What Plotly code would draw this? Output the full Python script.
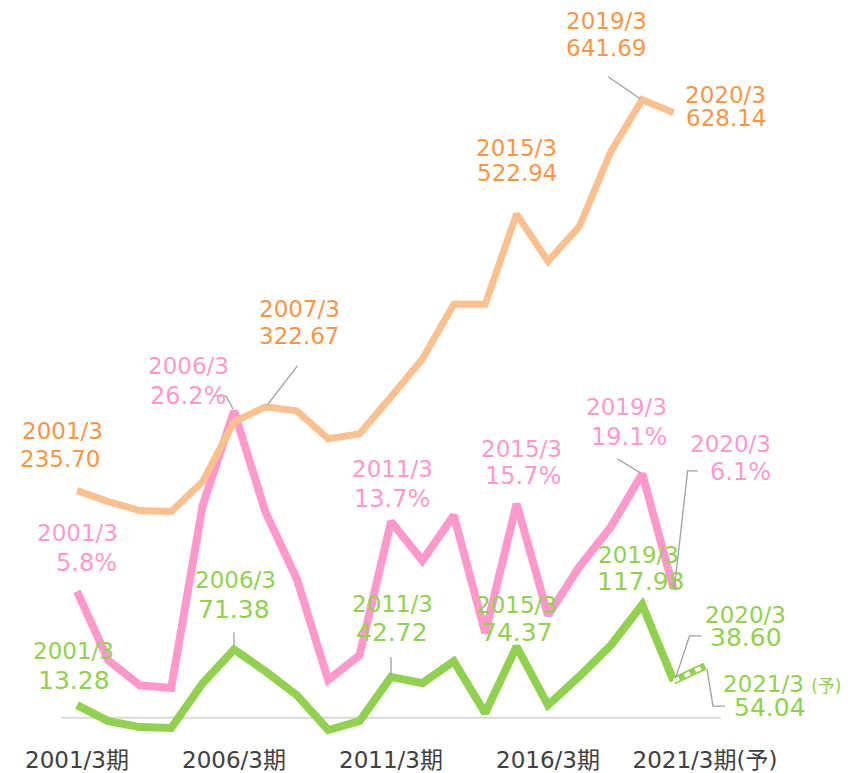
import plotly.graph_objects as go

# ---------------- data ----------------
periods = ["2001/3", "2002/3", "2003/3", "2004/3", "2005/3", "2006/3", "2007/3", "2008/3",
           "2009/3", "2010/3", "2011/3", "2012/3", "2013/3", "2014/3", "2015/3", "2016/3",
           "2017/3", "2018/3", "2019/3", "2020/3", "2021/3"]
tick_labels = ["2001/3期", "2006/3期", "2011/3期", "2016/3期", "2021/3期(予)"]
tick_index = [0, 5, 10, 15, 20]

sales = [235.70, 224.3, 215.0, 214.0, 245.0, 307.2, 322.67, 318.6, 289.6, 294.7,
         333.1, 372.4, 429.4, 429.4, 522.94, 473.9, 510.2, 587.8, 641.69, 628.14]
margin_pct = [5.8, -2.0, -4.8, -5.1, 15.5, 26.2, 14.8, 7.2, -4.2, -1.4,
              13.7, 9.3, 14.4, 1.1, 15.7, 3.1, 8.6, 13.1, 19.1, 6.1]
profit = [13.28, -3.4, -9.6, -10.6, 36.2, 71.38, 48.6, 23.7, -12.7, -3.4,
          42.72, 36.2, 59.0, 5.0, 74.37, 13.3, 43.4, 75.7, 117.98, 38.60, 54.04]

ORANGE_LINE = "#FAC090"
ORANGE_TXT = "#F79646"
PINK = "#FF99CC"
GREEN = "#92D050"
GRAY = "#A0A0A0"
FONT = "DejaVu Sans, Noto Sans CJK JP, sans-serif"

xs = list(range(len(periods)))

fig = go.Figure()
fig.add_trace(go.Scatter(x=xs[:len(sales)], y=sales, yaxis="y3", mode="lines",
                         line=dict(color=ORANGE_LINE, width=7), hoverinfo="skip"))
fig.add_trace(go.Scatter(x=xs[:len(margin_pct)], y=margin_pct, yaxis="y2", mode="lines",
                         line=dict(color=PINK, width=8), hoverinfo="skip"))
fig.add_trace(go.Scatter(x=xs[:20], y=profit[:20], yaxis="y", mode="lines",
                         line=dict(color=GREEN, width=8), hoverinfo="skip"))
# forecast segment
fig.add_trace(go.Scatter(x=xs[19:21], y=profit[19:21], yaxis="y", mode="lines",
                         line=dict(color=GREEN, width=7.5), hoverinfo="skip"))
fig.add_trace(go.Scatter(x=xs[19:21], y=profit[19:21], yaxis="y", mode="lines",
                         line=dict(color="white", width=4, dash="6px,6px"), hoverinfo="skip"))

annotations = []
shapes = []


def label(i, series, yref, color, line1, line2, off1, off2, s1=23, s2=24):
    annotations.append(dict(x=i, y=series[i], xref="x", yref=yref, text=line1,
                            showarrow=False, xanchor="center", yanchor="middle",
                            xshift=off1[0], yshift=off1[1],
                            font=dict(family=FONT, size=s1, color=color)))
    annotations.append(dict(x=i, y=series[i], xref="x", yref=yref, text=line2,
                            showarrow=False, xanchor="center", yanchor="middle",
                            xshift=off2[0], yshift=off2[1],
                            font=dict(family=FONT, size=s2, color=color)))


def leader(i, series, yref, pts):
    path = "M " + " L ".join(f"{px},{py}" for px, py in pts)
    shapes.append(dict(type="path", xref="x", yref=yref, xsizemode="pixel", ysizemode="pixel",
                       xanchor=i, yanchor=series[i], path=path,
                       line=dict(color=GRAY, width=1.3), layer="above"))


# orange labels (sales)
label(0, sales, "y3", ORANGE_TXT, "2001/3", f"{sales[0]:.2f}", (-15, 60), (-17, 32), 23, 23)
label(6, sales, "y3", ORANGE_TXT, "2007/3", f"{sales[6]:.2f}", (34, 98), (34, 71), 23, 23)
label(14, sales, "y3", ORANGE_TXT, "2015/3", f"{sales[14]:.2f}", (0, 66), (0, 41), 23, 23)
label(18, sales, "y3", ORANGE_TXT, "2019/3", f"{sales[18]:.2f}", (-36, 79), (-36, 52), 23, 23)
label(19, sales, "y3", ORANGE_TXT, "2020/3", f"{sales[19]:.2f}", (52, 18), (52, -5), 23, 23)
leader(6, sales, "y3", [(2, 2), (32, 41)])
leader(18, sales, "y3", [(-2, 1), (-34, 23)])

# pink labels (margin)
label(0, margin_pct, "y2", PINK, "2001/3", f"{margin_pct[0]:.1f}%", (0, 58), (9, 28))
label(5, margin_pct, "y2", PINK, "2006/3", f"{margin_pct[5]:.1f}%", (-46, 45), (-46, 15))
label(10, margin_pct, "y2", PINK, "2011/3", f"{margin_pct[10]:.1f}%", (1, 53), (1, 23))
label(14, margin_pct, "y2", PINK, "2015/3", f"{margin_pct[14]:.1f}%", (5, 55), (6, 28))
label(18, margin_pct, "y2", PINK, "2019/3", f"{margin_pct[18]:.1f}%", (-16, 67), (-13, 37))
label(19, margin_pct, "y2", PINK, "2020/3", f"{margin_pct[19]:.1f}%", (57, 145), (67, 117))
leader(5, margin_pct, "y2", [(-1, 2), (-8, 15), (-21, 15)])
leader(18, margin_pct, "y2", [(-2, 1), (-25, 15)])
leader(19, margin_pct, "y2", [(1, 2), (14, 118), (24, 118)])

# green labels (profit)
label(0, profit, "y", GREEN, "2001/3", f"{profit[0]:.2f}", (-4, 54), (-3, 25), 23, 25)
label(5, profit, "y", GREEN, "2006/3", f"{profit[5]:.2f}", (1, 69), (0, 40), 23, 25)
label(10, profit, "y", GREEN, "2011/3", f"{profit[10]:.2f}", (1, 73), (1, 44), 23, 25)
label(14, profit, "y", GREEN, "2015/3", f"{profit[14]:.2f}", (0, 42), (0, 14), 23, 25)
label(18, profit, "y", GREEN, "2019/3", f"{profit[18]:.2f}", (-4, 50), (-2, 23), 23, 25)
label(19, profit, "y", GREEN, "2020/3", f"{profit[19]:.2f}", (72, 66), (72, 43), 23, 25)
label(20, profit, "y", GREEN, "2021/3 <span style='font-size:17px'>(予)</span>",
      f"{profit[20]:.2f}", (77, -18), (65, -41), 23, 25)
leader(5, profit, "y", [(0, 4), (0, 17)])
leader(10, profit, "y", [(0, 2), (0, 20)])
leader(19, profit, "y", [(2, 3), (16, 45), (28, 45)])
leader(20, profit, "y", [(2, -3), (8, -40), (20, -40)])

# baseline (profit zero line)
shapes.insert(0, dict(type="line", xref="x", yref="y", x0=-0.5, x1=20.5, y0=0, y1=0,
                      line=dict(color="#D9D9D9", width=2), layer="below"))

W, H = 857, 765  # page body has an 8px margin
fig.update_layout(
    width=W, height=H,
    margin=dict(l=0, r=0, t=2, b=33),
    paper_bgcolor="white", plot_bgcolor="white",
    showlegend=False,
    xaxis=dict(range=[-69 / 31.4, (W - 69) / 31.4], tickmode="array",
               tickvals=tick_index, ticktext=tick_labels, showgrid=False, zeroline=False,
               showline=False, ticks="outside", ticklen=1, tickcolor="rgba(0,0,0,0)",
               tickfont=dict(family=FONT, size=23, color="#404040"), fixedrange=True),
    yaxis=dict(range=[-21.0, 738.2], visible=False, fixedrange=True),
    yaxis2=dict(range=[-10.76, 71.51], overlaying="y", visible=False, fixedrange=True),
    yaxis3=dict(range=[-21.2, 734.9], overlaying="y", visible=False, fixedrange=True),
    annotations=annotations,
    shapes=shapes,
)

fig.write_html("out.html")
